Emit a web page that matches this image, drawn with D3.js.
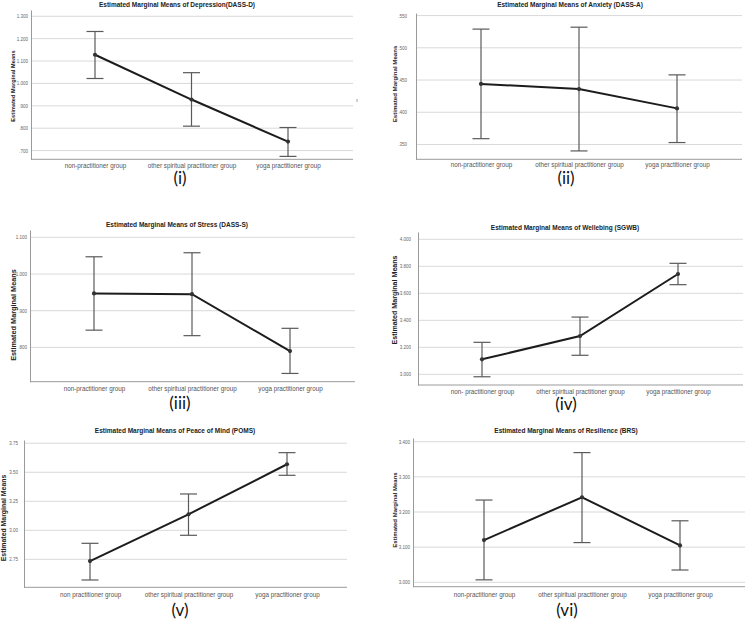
<!DOCTYPE html>
<html>
<head>
<meta charset="utf-8">
<script src="https://cdn.jsdelivr.net/npm/d3@7"></script>
<style>
  html, body { margin: 0; padding: 0; background: #fff; }
  svg { display: block; }
</style>
</head>
<body>
<svg id="chart" width="746" height="624"></svg>
<script>
// ---------------- DATA ----------------
const categoriesStd   = ["non-practitioner group", "other spiritual practitioner group", "yoga practitioner group"];
const categoriesIV    = ["non- practitioner group", "other spiritual practitioner group", "yoga practitioner group"];
const categoriesV     = ["non practitioner group", "other spiritual practitioner group", "yoga practitioner group"];

const titles = [
  "Estimated Marginal Means of Depression(DASS-D)",
  "Estimated Marginal Means of Anxiety (DASS-A)",
  "Estimated Marginal Means of Stress (DASS-S)",
  "Estimated Marginal Means of  Wellebing (SGWB)",
  "Estimated Marginal Means of Peace of Mind (POMS)",
  "Estimated Marginal Means of Resilience (BRS)"
];
const captions = ["(i)", "(ii)", "(iii)", "(iv)", "(v)", "(vi)"];
const yAxisTitle = "Estimated Marginal Means";

// Depression
const depMean = [1.128, 0.928, 0.740];
const depLow  = [1.022, 0.809, 0.674];
const depHigh = [1.232, 1.048, 0.803];
const depTicks = [0.7, 0.8, 0.9, 1.0, 1.1, 1.2, 1.3];
const depTickLabels = [".700", ".800", ".900", "1.000", "1.100", "1.200", "1.300"];
const depDomain = [0.661, 1.328];

// Anxiety
const anxMean = [0.444, 0.436, 0.406];
const anxLow  = [0.359, 0.340, 0.353];
const anxHigh = [0.529, 0.532, 0.458];
const anxTicks = [0.35, 0.40, 0.45, 0.50, 0.55];
const anxTickLabels = [".350", ".400", ".450", ".500", ".550"];
const anxDomain = [0.327, 0.554];

// Stress
const strMean = [0.947, 0.945, 0.790];
const strLow  = [0.847, 0.832, 0.729];
const strHigh = [1.047, 1.058, 0.852];
const strTicks = [0.8, 0.9, 1.0, 1.1];
const strTickLabels = [".800", ".900", "1.000", "1.100"];
const strDomain = [0.7065, 1.12];

// Wellbeing
const welMean = [3.111, 3.284, 3.743];
const welLow  = [2.982, 3.141, 3.664];
const welHigh = [3.237, 3.424, 3.822];
const welTicks = [3.0, 3.2, 3.4, 3.6, 3.8, 4.0];
const welTickLabels = ["3.000", "3.200", "3.400", "3.600", "3.800", "4.000"];
const welDomain = [2.921, 4.054];

// Peace of mind
const pomMean = [2.735, 3.138, 3.569];
const pomLow  = [2.572, 2.957, 3.474];
const pomHigh = [2.888, 3.313, 3.669];
const pomTicks = [2.75, 3.00, 3.25, 3.50, 3.75];
const pomTickLabels = ["2.75", "3.00", "3.25", "3.50", "3.75"];
const pomDomain = [2.509, 3.778];

// Resilience
const resMean = [3.120, 3.242, 3.105];
const resLow  = [3.007, 3.113, 3.035];
const resHigh = [3.234, 3.369, 3.175];
const resTicks = [3.0, 3.1, 3.2, 3.3, 3.4];
const resTickLabels = ["3.000", "3.100", "3.200", "3.300", "3.400"];
const resDomain = [2.9875, 3.4105];

// ---------------- LAYOUT (positions / sizes only) ----------------
const layout = [
  {x0: 31,  x1: 353, yTop: 10,  yBot: 159.3, px: [95, 288],  tickPad: 3, titleX: 177, titleY: 5,   ylabX: 13,  ylabY: 86,  ylabSize: 5.7, catY: 166,   capX: 180, capY: 180},
  {x0: 416, x1: 742, yTop: 13,  yBot: 159.3, px: [481, 677], tickPad: 9, titleX: 570, titleY: 5,   ylabX: 395, ylabY: 84,  ylabSize: 6.1, catY: 165.5, capX: 566, capY: 180},
  {x0: 30,  x1: 355, yTop: 230, yBot: 381.7, px: [94, 290],  tickPad: 3, titleX: 177, titleY: 225, ylabX: 14,  ylabY: 315, ylabSize: 7.3, catY: 389,   capX: 180, capY: 405},
  {x0: 418, x1: 743, yTop: 232, yBot: 385,   px: [482, 678], tickPad: 7, titleX: 565, titleY: 228, ylabX: 395, ylabY: 300, ylabSize: 7.1, catY: 392,   capX: 566, capY: 406},
  {x0: 24,  x1: 347, yTop: 440, yBot: 587.3, px: [90, 287],  tickPad: 6, titleX: 175, titleY: 431, ylabX: 4,   ylabY: 518, ylabSize: 6.9, catY: 595,   capX: 180, capY: 612},
  {x0: 413, x1: 745, yTop: 438, yBot: 586.7, px: [484, 680], tickPad: 3, titleX: 566, titleY: 431, ylabX: 395, ylabY: 510, ylabSize: 6.0, catY: 595,   capX: 567, capY: 612}
];

const panelData = [
  {cats: categoriesStd, mean: depMean, low: depLow, high: depHigh, ticks: depTicks, tickLabels: depTickLabels, domain: depDomain},
  {cats: categoriesStd, mean: anxMean, low: anxLow, high: anxHigh, ticks: anxTicks, tickLabels: anxTickLabels, domain: anxDomain},
  {cats: categoriesStd, mean: strMean, low: strLow, high: strHigh, ticks: strTicks, tickLabels: strTickLabels, domain: strDomain},
  {cats: categoriesIV,  mean: welMean, low: welLow, high: welHigh, ticks: welTicks, tickLabels: welTickLabels, domain: welDomain},
  {cats: categoriesV,   mean: pomMean, low: pomLow, high: pomHigh, ticks: pomTicks, tickLabels: pomTickLabels, domain: pomDomain},
  {cats: categoriesStd, mean: resMean, low: resLow, high: resHigh, ticks: resTicks, tickLabels: resTickLabels, domain: resDomain}
];

// ---------------- DRAW ----------------
const svg = d3.select("#chart");
const FONT = "'Liberation Sans', Arial, sans-serif";

panelData.forEach((d, i) => {
  const L = layout[i];
  const g = svg.append("g");

  const x = d3.scalePoint().domain(d.cats).range(L.px).padding(0);
  const y = d3.scaleLinear().domain(d.domain).range([L.yBot, L.yTop]);

  // gridlines
  g.selectAll("line.grid").data(d.ticks).join("line")
    .attr("x1", L.x0).attr("x2", L.x1)
    .attr("y1", v => y(v)).attr("y2", v => y(v))
    .attr("stroke", "#d9d9d9").attr("stroke-width", 1);

  // y axis
  const yAxis = d3.axisLeft(y).tickValues(d.ticks)
    .tickFormat((v, k) => d.tickLabels[k]).tickSize(0).tickPadding(L.tickPad);
  const ya = g.append("g").attr("transform", `translate(${L.x0},0)`).call(yAxis);
  ya.select(".domain").attr("stroke", "#9a9a9a").attr("stroke-width", 1);
  ya.selectAll("text").attr("font-family", FONT).attr("font-size", 4.5).attr("fill", "#666");

  // x axis
  const xAxis = d3.axisBottom(x).tickSize(0).tickPadding(0).tickSizeOuter(0);
  const xa = g.append("g").attr("transform", `translate(0,${L.yBot})`).call(xAxis);
  xa.select(".domain").remove();
  g.append("line").attr("x1", L.x0).attr("x2", L.x1).attr("y1", L.yBot).attr("y2", L.yBot)
    .attr("stroke", "#9a9a9a").attr("stroke-width", 1);
  xa.selectAll("text").attr("font-family", FONT).attr("font-size", 6.3).attr("fill", "#555")
    .attr("dy", null).attr("y", L.catY - L.yBot).attr("dominant-baseline", "middle");

  // error bars
  const capW = 8.5;
  const eb = g.selectAll("g.eb").data(d.cats).join("g");
  eb.append("line")
    .attr("x1", c => x(c)).attr("x2", c => x(c))
    .attr("y1", (c, k) => y(d.low[k])).attr("y2", (c, k) => y(d.high[k]))
    .attr("stroke", "#5a5a5a").attr("stroke-width", 1.2);
  eb.append("line")
    .attr("x1", c => x(c) - capW).attr("x2", c => x(c) + capW)
    .attr("y1", (c, k) => y(d.high[k])).attr("y2", (c, k) => y(d.high[k]))
    .attr("stroke", "#5a5a5a").attr("stroke-width", 1.2);
  eb.append("line")
    .attr("x1", c => x(c) - capW).attr("x2", c => x(c) + capW)
    .attr("y1", (c, k) => y(d.low[k])).attr("y2", (c, k) => y(d.low[k]))
    .attr("stroke", "#5a5a5a").attr("stroke-width", 1.2);

  // mean line
  const line = d3.line().x((c) => x(c)).y((c, k) => y(d.mean[k]));
  g.append("path").datum(d.cats).attr("d", line)
    .attr("fill", "none").attr("stroke", "#1c1c1c").attr("stroke-width", 2);

  g.selectAll("circle.pt").data(d.cats).join("circle")
    .attr("cx", c => x(c)).attr("cy", (c, k) => y(d.mean[k])).attr("r", 2.1)
    .attr("fill", "#333");

  // title
  g.append("text").attr("x", L.titleX).attr("y", L.titleY)
    .attr("text-anchor", "middle").attr("dominant-baseline", "middle")
    .attr("font-family", FONT).attr("font-weight", "bold").attr("font-size", 6.5)
    .attr("fill", "#222").text(titles[i]);

  // y axis title
  g.append("text").attr("transform", `translate(${L.ylabX},${L.ylabY}) rotate(-90)`)
    .attr("text-anchor", "middle").attr("dominant-baseline", "middle")
    .attr("font-family", FONT).attr("font-weight", "bold").attr("font-size", L.ylabSize)
    .attr("fill", "#222").text(yAxisTitle);

  // caption
  svg.append("text").attr("x", L.capX).attr("y", L.capY)
    .attr("text-anchor", "middle").attr("dominant-baseline", "middle")
    .attr("font-family", "Lato, 'Open Sans', sans-serif").attr("font-size", 17)
    .attr("fill", "#111").text(captions[i]);
});

// small stray mark to the right of panel (i)
svg.append("line").attr("x1", 357).attr("x2", 357).attr("y1", 99).attr("y2", 102)
  .attr("stroke", "#888").attr("stroke-width", 0.8);
</script>
</body>
</html>
